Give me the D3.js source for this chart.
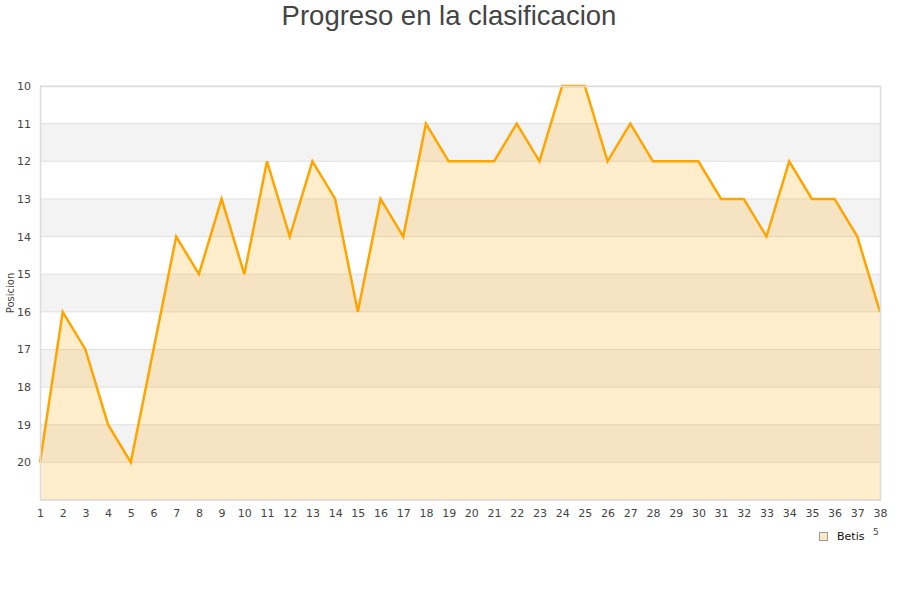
<!DOCTYPE html>
<html><head><meta charset="utf-8">
<script src="https://cdn.jsdelivr.net/npm/d3@7/dist/d3.min.js"></script>
<style>body{margin:0;background:#fff}svg{display:block}</style>
</head><body><svg id="c" width="900" height="600"></svg>
<script>
const jornadas = d3.range(1, 39);
const posiciones = [20,16,17,19,20,17,14,15,13,15,12,14,12,13,16,13,14,11,12,12,12,11,12,10,10,12,11,12,12,12,13,13,14,12,13,13,14,16];
const yTicks = [10,11,12,13,14,15,16,17,18,19,20];
const bandas = [11,13,15,17,19];
const title = "Progreso en la clasificacion";
const serie = "Betis";

const svg = d3.select("#c");
const m = {l:40, r:880, t:86, b:500};
const x = d3.scaleLinear().domain([1,38]).range([m.l, m.r]);
const y = d3.scaleLinear().domain([10,21]).range([m.t, m.b]);

svg.append("text").attr("x",449).attr("y",25).attr("text-anchor","middle")
  .attr("font-family","Liberation Sans, Arial, sans-serif").attr("font-size",27.5).attr("fill","#444").text(title);

svg.selectAll("rect.band").data(bandas).enter().append("rect")
  .attr("x",m.l).attr("width",m.r-m.l).attr("y",d=>y(d)).attr("height",d=>y(d+1)-y(d)).attr("fill","#f3f3f3");
svg.selectAll("line.g").data(d3.range(10,22)).enter().append("line")
  .attr("x1",m.l).attr("x2",m.r).attr("y1",d=>y(d)).attr("y2",d=>y(d)).attr("stroke","#e0e0e0").attr("stroke-width",1);

const area = d3.area().x((d,i)=>x(jornadas[i])).y0(y(21)).y1(d=>y(d));
svg.append("path").datum(posiciones).attr("d",area).attr("fill","rgba(255,165,0,0.2)");
const line = d3.line().x((d,i)=>x(jornadas[i])).y(d=>y(d));
svg.append("path").datum(posiciones).attr("d",line).attr("fill","none").attr("stroke","#ffa500").attr("stroke-width",2.5).attr("stroke-linejoin","miter");

svg.append("rect").attr("x",m.l+0.5).attr("y",m.t+0.5).attr("width",m.r-m.l).attr("height",m.b-m.t-0.5)
  .attr("fill","none").attr("stroke","#dcdcdc").attr("stroke-width",1.5);

const yAxis = d3.axisLeft(y).tickValues(yTicks).tickSize(0).tickPadding(9);
const gy = svg.append("g").attr("transform",`translate(${m.l},0)`).call(yAxis);
gy.select(".domain").remove();
gy.selectAll("text").attr("font-family","DejaVu Sans, sans-serif").attr("font-size",11).attr("fill","#444");
const xAxis = d3.axisBottom(x).tickValues(jornadas).tickFormat(d3.format("d")).tickSize(0).tickPadding(9);
const gx = svg.append("g").attr("transform",`translate(0,${m.b})`).call(xAxis);
gx.select(".domain").remove();
gx.selectAll("text").attr("font-family","DejaVu Sans, sans-serif").attr("font-size",11).attr("fill","#444");

svg.append("text").attr("transform",`translate(14,${(m.t+m.b)/2}) rotate(-90)`).attr("text-anchor","middle")
  .attr("font-family","DejaVu Sans, sans-serif").attr("font-size",10).attr("fill","#444").text("Posicion");

svg.append("rect").attr("x",819.5).attr("y",532.5).attr("width",8).attr("height",8)
  .attr("fill","#fde9c6").attr("stroke","#999").attr("stroke-width",1);
svg.append("text").attr("x",837).attr("y",540).attr("font-family","DejaVu Sans, sans-serif").attr("font-size",11).attr("fill","#111").text(serie);
svg.append("text").attr("x",873).attr("y",535).attr("font-family","DejaVu Sans, sans-serif").attr("font-size",9).attr("fill","#444").text("5");
</script></body></html>
